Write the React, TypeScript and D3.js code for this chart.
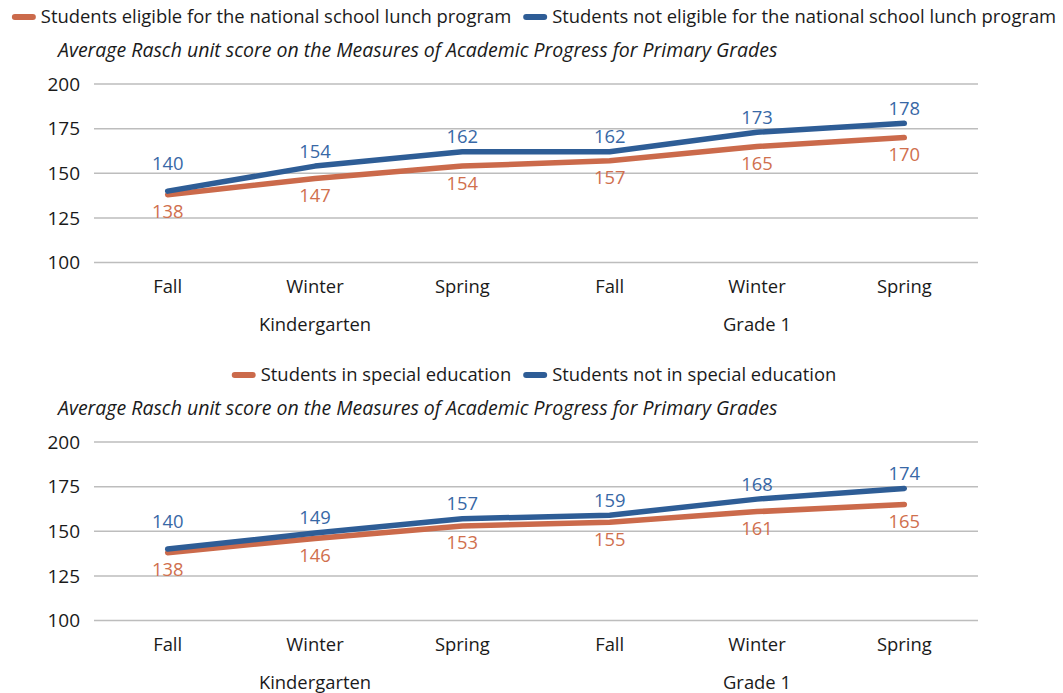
import React, { useEffect, useRef } from "react"
import * as d3 from "d3"

const seasons = ["Fall", "Winter", "Spring", "Fall", "Winter", "Spring"]
const grades = ["Kindergarten", "Grade 1"]
const yTicks = [100, 125, 150, 175, 200]

const lunchEligible = [138, 147, 154, 157, 165, 170]
const lunchNotEligible = [140, 154, 162, 162, 173, 178]
const specialEd = [138, 146, 153, 155, 161, 165]
const notSpecialEd = [140, 149, 157, 159, 168, 174]

const chartTitle = "Average Rasch unit score on the Measures of Academic Progress for Primary Grades"

const ORANGE = "#CB6A4B"
const BLUE = "#2E5D96"
const ORANGE_TEXT = "#D0704E"
const BLUE_TEXT = "#3868A6"
const FONT = "'Open Sans', sans-serif"
const FS = 18.4

interface PanelSpec {
  top: number
  orangeName: string
  blueName: string
  orange: number[]
  blue: number[]
}

const panels: PanelSpec[] = [
  {
    top: 0,
    orangeName: "Students eligible for the national school lunch program",
    blueName: "Students not eligible for the national school lunch program",
    orange: lunchEligible,
    blue: lunchNotEligible,
  },
  {
    top: 358,
    orangeName: "Students in special education",
    blueName: "Students not in special education",
    orange: specialEd,
    blue: notSpecialEd,
  },
]

function drawPanel(root: d3.Selection<SVGGElement, unknown, null, undefined>, p: PanelSpec) {
  const g = root.append("g").attr("transform", `translate(0,${p.top})`)
  const left = 94
  const right = 978
  const plotTop = 84
  const plotBottom = 262.5

  const x = d3.scaleBand<number>()
    .domain(d3.range(seasons.length))
    .range([left, right])
  const y = d3.scaleLinear().domain([100, 200]).range([plotBottom, plotTop])
  const cx = (i: number) => (x(i) || 0) + x.bandwidth() / 2

  // legend, centred
  const legend = g.append("g")
  const items = [
    { name: p.orangeName, color: ORANGE },
    { name: p.blueName, color: BLUE },
  ]
  let pos = 0
  items.forEach((it, k) => {
    const item = legend.append("g").attr("transform", `translate(${pos},17)`)
    item.append("line")
      .attr("x1", 3).attr("x2", 21)
      .attr("stroke", it.color).attr("stroke-width", 6).attr("stroke-linecap", "round")
    const t = item.append("text")
      .attr("x", 29).attr("dy", "0.35em")
      .attr("font-size", FS).attr("fill", "#1a1a1a")
      .text(it.name)
    const w = (t.node() as SVGTextElement).getComputedTextLength()
    pos += 29 + w + (k === 0 ? 12 : 0)
  })
  legend.attr("transform", `translate(${534 - pos / 2},0)`)

  g.append("text")
    .attr("x", 58).attr("y", 50).attr("dy", "0.35em")
    .attr("font-size", 19.5).attr("font-style", "italic").attr("fill", "#1a1a1a")
    .text(chartTitle)

  // grid + y labels
  g.selectAll(".grid").data(yTicks).enter().append("line")
    .attr("x1", left).attr("x2", right)
    .attr("y1", d => y(d)).attr("y2", d => y(d))
    .attr("stroke", "#BDBDBD").attr("stroke-width", 1.5)
  g.selectAll(".ylab").data(yTicks).enter().append("text")
    .attr("x", 80).attr("y", d => y(d)).attr("dy", "0.35em")
    .attr("text-anchor", "end").attr("font-size", 19).attr("fill", "#1a1a1a")
    .text(d => d)

  // category labels
  g.selectAll(".cat").data(seasons).enter().append("text")
    .attr("x", (_, i) => cx(i)).attr("y", 287).attr("dy", "0.35em")
    .attr("text-anchor", "middle").attr("font-size", FS).attr("fill", "#1a1a1a")
    .text(d => d)
  g.selectAll(".grade").data(grades).enter().append("text")
    .attr("x", (_, i) => cx(i * 3 + 1)).attr("y", 325).attr("dy", "0.35em")
    .attr("text-anchor", "middle").attr("font-size", FS).attr("fill", "#1a1a1a")
    .text(d => d)

  const line = d3.line<number>().x((_, i) => cx(i)).y(d => y(d))

  ;[
    { data: p.orange, color: ORANGE },
    { data: p.blue, color: BLUE },
  ].forEach(s => {
    g.append("path")
      .datum(s.data)
      .attr("fill", "none").attr("stroke", s.color).attr("stroke-width", 5.5)
      .attr("stroke-linecap", "round").attr("stroke-linejoin", "round")
      .attr("d", line)
  })

  g.selectAll(".olab").data(p.orange).enter().append("text")
    .attr("x", (_, i) => cx(i)).attr("y", d => y(d) + 17).attr("dy", "0.35em")
    .attr("text-anchor", "middle").attr("font-size", FS).attr("fill", ORANGE_TEXT)
    .text(d => d)
  g.selectAll(".blab").data(p.blue).enter().append("text")
    .attr("x", (_, i) => cx(i)).attr("y", (d, i) => y(d) - (i === 0 ? 28 : 15)).attr("dy", "0.35em")
    .attr("text-anchor", "middle").attr("font-size", FS).attr("fill", BLUE_TEXT)
    .text(d => d)
}

export default function App() {
  const svgRef = useRef<SVGSVGElement>(null)

  useEffect(() => {
    if (!svgRef.current) return
    const svg = d3.select(svgRef.current)
    svg.selectAll("*").remove()
    const root = svg.append("g").attr("font-family", FONT)
    panels.forEach(p => drawPanel(root, p))
  }, [])

  return (
    <svg
      ref={svgRef}
      width={1063}
      height={693}
      style={{ position: "absolute", left: 0, top: 0, background: "#fff" }}
    />
  )
}
